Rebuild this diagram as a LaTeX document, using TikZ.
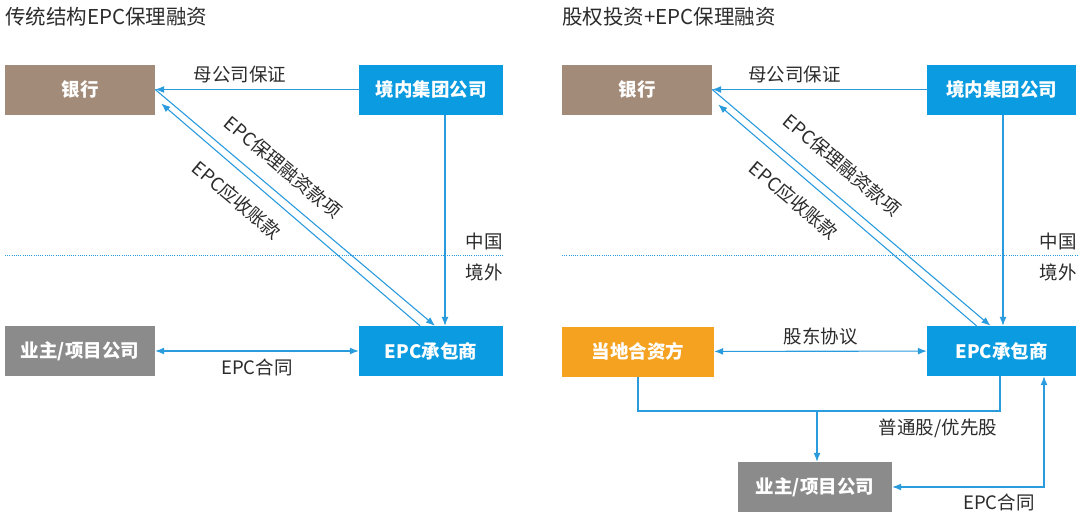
\documentclass[tikz,border=0pt]{standalone}
\usepackage{fontspec}
\setmainfont{Noto Sans CJK SC}
\usetikzlibrary{arrows.meta}

\definecolor{epcblue}{HTML}{0A9BE0}
\definecolor{bankbrown}{HTML}{A38B79}
\definecolor{ownergray}{HTML}{8B8B8B}
\definecolor{jvorange}{HTML}{F5A220}
\definecolor{linkblue}{HTML}{2A9BDD}
\definecolor{txtgray}{HTML}{2B2B2B}

\tikzset{
  box/.style={minimum height=50pt, inner sep=0pt, text=white,
    font=\fontsize{18.5}{21}\selectfont\bfseries},
  lbl/.style={text=txtgray, inner sep=0pt, font=\fontsize{18.5}{21}\selectfont},
  ttl/.style={text=txtgray, inner sep=0pt, anchor=west, font=\fontsize{20.5}{24}\selectfont},
  link/.style={linkblue, line width=1.1pt},
  arr/.style={link, -{Latex[length=9pt,width=7pt]}},
  arrr/.style={link, {Latex[length=9pt,width=7pt]}-{Latex[length=9pt,width=7pt]}},
  border/.style={linkblue, line width=0.8pt, dash pattern=on 1pt off 1.2pt}
}

\begin{document}
\begin{tikzpicture}[x=1pt,y=-1pt]

\useasboundingbox (0,0) rectangle (1080,522);

% left: traditional structure
\node[ttl] (titleL) at (5,17) {传统结构EPC保理融资};

\node[box, fill=bankbrown, minimum width=150pt] (bankL) at (80,89.5) {银行};
\node[box, fill=epcblue, minimum width=144pt] (groupL) at (431,89.5) {境内集团公司};
\node[box, fill=epcblue, minimum width=144pt] (epcL) at (431,351) {EPC承包商};
\node[box, fill=ownergray, minimum width=150pt] (ownerL) at (80,351) {业主/项目公司};

\draw[border] (5,255) -- (503,255);
\node[lbl, anchor=east] (cnL) at (503,241) {中国};
\node[lbl, anchor=east] (abL) at (503,272) {境外};

\draw[arr] (groupL) -- (bankL) node[lbl, midway, above=6pt, xshift=-17pt] {母公司保证};
\draw[arr] (bankL.east) -- ([xshift=4pt]epcL.north);
\draw[arr] ([xshift=-11pt]epcL.north) -- ([xshift=6pt,yshift=-14pt]bankL.east);
\draw[arr] ([xshift=14pt]groupL.south) -- ([xshift=14pt]epcL.north);
\draw[arrr] (ownerL) -- (epcL) node[lbl, midway, below=7pt] {EPC合同};

\node[lbl, rotate=-40] (finL) at (283,167) {EPC保理融资款项};
\node[lbl, rotate=-40] (recL) at (237,200) {EPC应收账款};

% right: equity investment
\node[ttl] (titleR) at (562,17) {股权投资+EPC保理融资};

\node[box, fill=bankbrown, minimum width=150pt] (bankR) at (637,89.5) {银行};
\node[box, fill=epcblue, minimum width=149pt] (groupR) at (1001.5,89.5) {境内集团公司};
\node[box, fill=epcblue, minimum width=149pt] (epcR) at (1001.5,351) {EPC承包商};
\node[box, fill=jvorange, minimum width=152pt] (jvR) at (638,351.5) {当地合资方};
\node[box, fill=ownergray, minimum width=154pt] (ownerR) at (815,487) {业主/项目公司};

\draw[border] (562,255) -- (1077,255);
\node[lbl, anchor=east] (cnR) at (1077,241) {中国};
\node[lbl, anchor=east] (abR) at (1077,272) {境外};

\draw[arr] (groupR) -- (bankR) node[lbl, midway, above=6pt, xshift=-25pt] {母公司保证};
\draw[arr] (bankR.east) -- ([xshift=-11pt]epcR.north);
\draw[arr] ([xshift=-25pt]epcR.north) -- ([xshift=6pt,yshift=-15pt]bankR.east);
\draw[arr] ([xshift=1.5pt]groupR.south) -- ([xshift=1.5pt]epcR.north);
\draw[arrr] (jvR) -- (epcR) node[lbl, midway, above=6pt] {股东协议};

\coordinate (split) at (817,411);
\draw[link] (jvR.south) |- (split) -| ([xshift=-1.5pt]epcR.south);
\draw[arr] (split) -- (split |- ownerR.north);
\node[lbl] (shares) at (938,428) {普通股/优先股};

\draw[arrr] (ownerR.east) -| ([xshift=42.5pt]epcR.south);
\node[lbl] (epcdeal) at (999,502) {EPC合同};

\node[lbl, rotate=-40] (finR) at (842,165) {EPC保理融资款项};
\node[lbl, rotate=-40] (recR) at (794,200) {EPC应收账款};

\end{tikzpicture}
\end{document}
